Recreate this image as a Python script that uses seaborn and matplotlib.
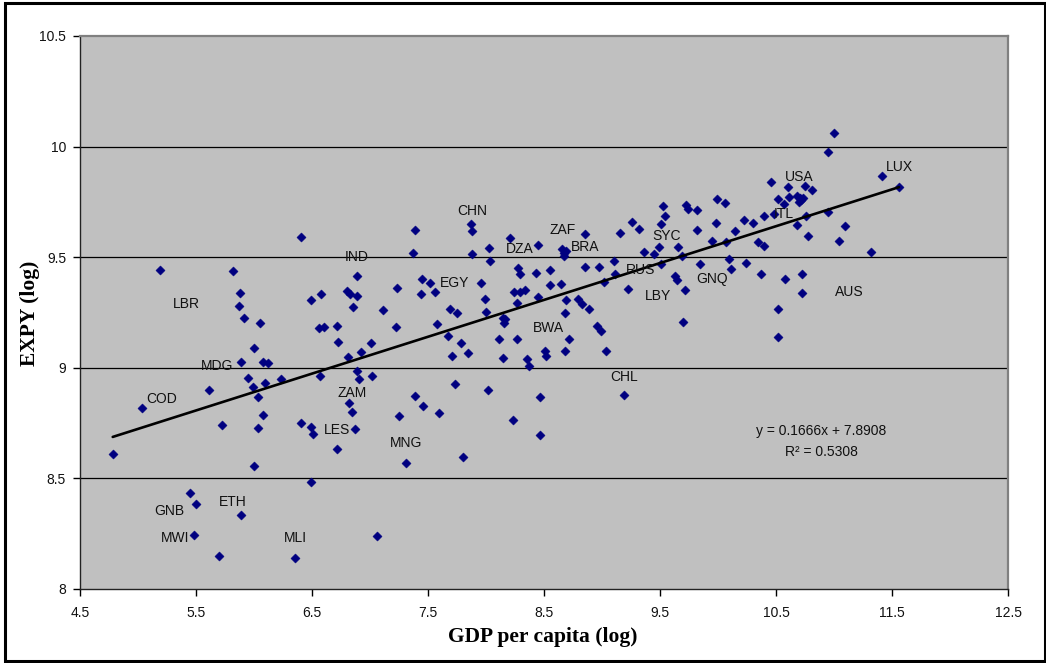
import numpy as np
import pandas as pd
import matplotlib
matplotlib.use("Agg")
import matplotlib.pyplot as plt
import seaborn as sns
from matplotlib.patches import Rectangle

# GDP per capita (log) and EXPY (log) per country
gdp_log = [
    6.405, 5.192, 5.816, 5.882, 5.868, 6.489, 6.575, 5.917, 6.052, 6.563,
    6.606, 5.997, 5.885, 6.075, 6.124, 5.951, 6.233, 6.572, 5.615, 5.988,
    6.092, 6.037, 5.037, 6.075, 5.724, 6.034, 6.402, 6.489, 6.511, 4.782,
    6.000, 6.494, 5.445, 5.497, 5.885, 5.480, 5.701, 6.353, 7.391, 7.374,
    7.873, 7.879, 7.882, 8.023, 8.032, 8.204, 8.445, 8.279, 8.293, 8.434,
    8.550, 6.885, 7.445, 7.517, 7.563, 7.442, 7.233, 6.805, 6.830, 6.890,
    7.957, 8.244, 8.293, 8.336, 8.451, 7.991, 8.264, 6.851, 7.112, 7.692,
    7.750, 8.000, 8.144, 8.167, 8.158, 6.713, 7.224, 7.578, 7.675, 7.787,
    7.842, 7.707, 8.112, 8.267, 8.149, 8.351, 8.373, 8.509, 8.515, 6.724,
    7.006, 6.920, 6.808, 6.891, 6.903, 7.014, 7.733, 8.020, 7.391, 8.468,
    6.822, 6.845, 6.871, 6.713, 7.247, 7.457, 7.598, 7.313, 7.798, 8.230,
    8.466, 7.063, 10.063, 9.991, 9.529, 9.724, 9.738, 9.815, 9.540, 9.511,
    9.256, 9.319, 9.155, 8.856, 9.983, 9.819, 10.224, 10.299, 10.394, 10.147,
    9.948, 10.069, 10.341, 10.399, 9.488, 9.652, 9.359, 9.445, 9.690, 8.658,
    8.674, 8.686, 8.675, 9.107, 9.847, 10.095, 10.109, 10.241, 10.367, 8.856,
    8.971, 9.509, 9.115, 9.020, 9.224, 9.629, 9.647, 9.718, 8.549, 8.644,
    8.687, 8.796, 8.828, 8.888, 8.681, 8.961, 8.988, 9.698, 8.718, 8.684,
    9.032, 9.192, 11.000, 10.951, 11.414, 11.560, 10.457, 10.603, 10.747, 10.807,
    10.520, 10.566, 10.615, 10.678, 10.707, 10.735, 10.701, 10.713, 10.483, 10.756,
    10.951, 10.678, 10.778, 11.098, 11.040, 11.316, 10.575, 10.724, 10.721, 10.520,
    10.514,
]
expy_log = [
    9.590, 9.443, 9.438, 9.340, 9.279, 9.308, 9.334, 9.225, 9.204, 9.179,
    9.186, 9.091, 9.025, 9.025, 9.022, 8.954, 8.948, 8.963, 8.901, 8.915,
    8.930, 8.869, 8.820, 8.787, 8.741, 8.729, 8.752, 8.731, 8.701, 8.609,
    8.556, 8.482, 8.433, 8.383, 8.336, 8.243, 8.148, 8.142, 9.622, 9.519,
    9.650, 9.618, 9.516, 9.540, 9.481, 9.588, 9.555, 9.450, 9.423, 9.430,
    9.440, 9.416, 9.403, 9.383, 9.344, 9.335, 9.362, 9.345, 9.335, 9.323,
    9.383, 9.343, 9.344, 9.352, 9.319, 9.310, 9.293, 9.273, 9.261, 9.267,
    9.249, 9.251, 9.227, 9.222, 9.201, 9.190, 9.183, 9.196, 9.145, 9.112,
    9.067, 9.052, 9.128, 9.130, 9.046, 9.040, 9.010, 9.077, 9.055, 9.118,
    9.112, 9.071, 9.050, 8.987, 8.951, 8.962, 8.925, 8.898, 8.874, 8.868,
    8.841, 8.799, 8.722, 8.633, 8.782, 8.829, 8.794, 8.568, 8.595, 8.766,
    8.695, 8.240, 9.747, 9.765, 9.732, 9.735, 9.718, 9.715, 9.684, 9.650,
    9.659, 9.628, 9.611, 9.606, 9.653, 9.623, 9.670, 9.655, 9.688, 9.618,
    9.575, 9.569, 9.567, 9.549, 9.548, 9.545, 9.524, 9.514, 9.507, 9.537,
    9.517, 9.526, 9.505, 9.481, 9.471, 9.493, 9.448, 9.476, 9.426, 9.457,
    9.456, 9.469, 9.423, 9.386, 9.358, 9.415, 9.398, 9.352, 9.374, 9.377,
    9.308, 9.311, 9.289, 9.264, 9.248, 9.190, 9.166, 9.208, 9.132, 9.078,
    9.078, 8.875, 10.061, 9.974, 9.865, 9.816, 9.841, 9.816, 9.823, 9.806,
    9.762, 9.742, 9.772, 9.778, 9.769, 9.767, 9.751, 9.757, 9.695, 9.685,
    9.706, 9.645, 9.598, 9.641, 9.573, 9.525, 9.401, 9.424, 9.340, 9.267,
    9.139,
]

# Country codes written next to selected points
label_codes = ["CHN", "IND", "DZA", "ZAF", "BRA", "SYC", "RUS", "EGY", "LBY",
               "GNQ", "USA", "ITL", "LUX", "AUS", "LBR", "MDG", "COD", "BWA",
               "CHL", "ZAM", "LES", "MNG", "GNB", "ETH", "MWI", "MLI"]
label_x = [7.879, 6.888, 8.293, 8.664, 8.853, 9.560, 9.336, 7.733, 9.483,
           9.948, 10.698, 10.569, 11.560, 11.130, 5.420, 5.681, 5.207, 8.534,
           9.190, 6.845, 6.716, 7.310, 5.267, 5.819, 5.319, 6.353]
label_y = [9.709, 9.501, 9.537, 9.623, 9.546, 9.596, 9.442, 9.383, 9.325,
           9.401, 9.863, 9.695, 9.908, 9.343, 9.288, 9.008, 8.859, 9.180,
           8.958, 8.886, 8.719, 8.660, 8.353, 8.393, 8.231, 8.231]

# Linear trend line
slope = 0.1666
intercept = 7.8908
r_squared = 0.5308

x_ticks = [4.5, 5.5, 6.5, 7.5, 8.5, 9.5, 10.5, 11.5, 12.5]
x_tick_labels = ["4.5", "5.5", "6.5", "7.5", "8.5", "9.5", "10.5", "11.5", "12.5"]
y_ticks = [8, 8.5, 9, 9.5, 10, 10.5]
y_tick_labels = ["8", "8.5", "9", "9.5", "10", "10.5"]

sns.set_theme(style="white")
plt.rcParams["font.family"] = ["Liberation Sans", "DejaVu Sans"]

W, H = 1046, 663
fig = plt.figure(figsize=(W / 100, H / 100), dpi=100)
fig.patch.set_facecolor("white")
ax = fig.add_axes([80 / W, (H - 589) / H, 928 / W, 553 / H])
ax.set_facecolor("#C0C0C0")

for yv in y_ticks[1:-1]:
    ax.axhline(yv, color="black", linewidth=0.9, zorder=1)

df = pd.DataFrame({"gdp": gdp_log, "expy": expy_log})
sns.scatterplot(data=df, x="gdp", y="expy", marker="D", s=22,
                color="#000080", edgecolor="#000080", linewidth=0.3,
                ax=ax, zorder=3, legend=False)

x_fit = np.array([min(gdp_log), max(gdp_log)])
sns.lineplot(x=x_fit, y=slope * x_fit + intercept, color="black",
             linewidth=1.9, ax=ax, zorder=4)

for code, lx, ly in zip(label_codes, label_x, label_y):
    ax.text(lx, ly, code, fontsize=10, ha="center", va="center",
            color="#111111", zorder=5)

ax.text(10.888, 8.714, f"y = {slope:.4f}x + {intercept:.4f}", fontsize=10,
        ha="center", va="center", color="#111111", zorder=5)
ax.text(10.896, 8.619, f"R\u00b2 = {r_squared:.4f}", fontsize=10,
        ha="center", va="center", color="#111111", zorder=5)

ax.set_xlim(4.5, 12.5)
ax.set_ylim(8, 10.5)
ax.set_xticks(x_ticks)
ax.set_xticklabels(x_tick_labels)
ax.set_yticks(y_ticks)
ax.set_yticklabels(y_tick_labels)
ax.set_xlabel("")
ax.set_ylabel("")
ax.tick_params(axis="both", which="major", direction="out", length=5,
               width=1, color="black", labelsize=10, labelcolor="#111111",
               bottom=True, left=True, top=False, right=False)
ax.tick_params(axis="x", pad=7)
ax.tick_params(axis="y", pad=5)

for side in ("left", "bottom"):
    ax.spines[side].set_color("#222222")
    ax.spines[side].set_linewidth(1.0)
for side in ("top", "right"):
    ax.spines[side].set_color("#808080")
    ax.spines[side].set_linewidth(1.6)

fig.text(543 / W, 1 - 637 / H, "GDP per capita (log)", fontsize=15.5,
         fontweight="bold", family=["Liberation Serif", "DejaVu Serif"],
         ha="center", va="center", color="black")
fig.text(30 / W, 1 - 313 / H, "EXPY (log)", fontsize=15.5, fontweight="bold",
         family=["Liberation Serif", "DejaVu Serif"], rotation=90,
         ha="center", va="center", color="black")

fig.patches.append(Rectangle((4.5 / W, 2.5 / H), 1040 / W, 658 / H,
                             transform=fig.transFigure, fill=False,
                             edgecolor="black", linewidth=2.2))

fig.savefig("out.png", dpi=100, facecolor="white")
